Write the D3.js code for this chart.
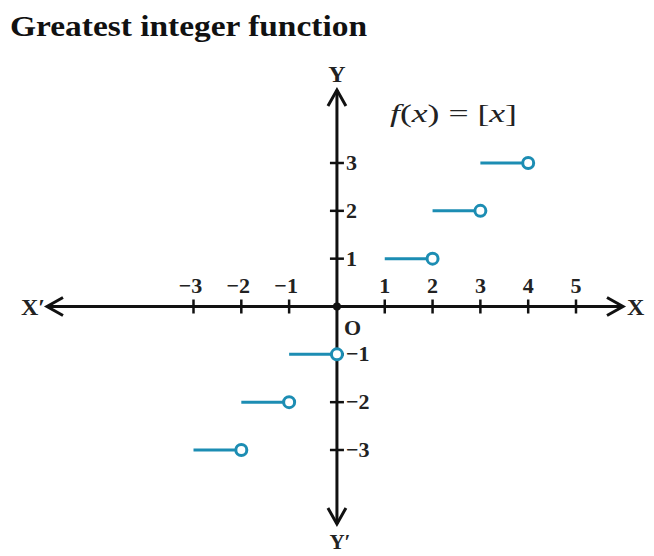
<!DOCTYPE html>
<html><head><meta charset="utf-8">
<script src="https://cdn.jsdelivr.net/npm/d3@7/dist/d3.min.js"></script>
<style>body{margin:0;background:#fff}svg{display:block}text{font-family:"Liberation Serif","Times New Roman",Times,serif}</style>
</head><body>
<script>
// Data: greatest integer function segments [x, x+1) at y = value
const stepStarts = [-3, -2, -1, 1, 2, 3];
const stepValues = [-3, -2, -1, 1, 2, 3];
const xTicks = [-3, -2, -1, 1, 2, 3, 4, 5];
const yTicks = [-3, -2, -1, 1, 2, 3];
const title = "Greatest integer function";

const W = 654, H = 556;
const svg = d3.select("body").append("svg").attr("width", W).attr("height", H)
  .style("font-family", "'Liberation Serif','Times New Roman',Times,serif");

const x = d3.scaleLinear().domain([-3, 5]).range([193.5, 576]);
const y = d3.scaleLinear().domain([-3, 3]).range([450, 163]);
const x0 = x(0), y0 = y(0);
const xLo = x.invert(47), xHi = x.invert(623);
const yHi = y.invert(90), yLo = y.invert(524);

svg.append("text").attr("x", 10).attr("y", 36).attr("font-size", 30).attr("font-weight", "bold")
  .attr("fill", "#111").attr("textLength", 357).attr("lengthAdjust", "spacingAndGlyphs").text(title);

const axisColor = "#111";
svg.append("line").attr("x1", x(xLo)).attr("x2", x(xHi)).attr("y1", y0).attr("y2", y0)
  .attr("stroke", axisColor).attr("stroke-width", 3);
svg.append("line").attr("x1", x0).attr("x2", x0).attr("y1", y(yHi)).attr("y2", y(yLo))
  .attr("stroke", axisColor).attr("stroke-width", 3);

function chevron(tx, ty, dx, dy) {
  const L = 16, S = 9;
  const px = -dy, py = dx;
  const bx = tx - dx * L, by = ty - dy * L;
  svg.append("path").attr("d", `M${bx + px * S},${by + py * S}L${tx},${ty}L${bx - px * S},${by - py * S}`)
    .attr("fill", "none").attr("stroke", axisColor).attr("stroke-width", 3).attr("stroke-linejoin", "miter");
}
chevron(x(xLo), y0, -1, 0);
chevron(x(xHi), y0, 1, 0);
chevron(x0, y(yHi), 0, -1);
chevron(x0, y(yLo), 0, 1);

svg.selectAll(".xt").data(xTicks).enter().append("line")
  .attr("x1", d => x(d)).attr("x2", d => x(d)).attr("y1", y0 - 7).attr("y2", y0 + 7)
  .attr("stroke", axisColor).attr("stroke-width", 2.5);
svg.selectAll(".yt").data(yTicks).enter().append("line")
  .attr("y1", d => y(d)).attr("y2", d => y(d)).attr("x1", x0 - 7).attr("x2", x0 + 7)
  .attr("stroke", axisColor).attr("stroke-width", 2.5);
svg.append("circle").attr("cx", x0).attr("cy", y0).attr("r", 4).attr("fill", axisColor);

const fmt = d => (d < 0 ? "\u2212" + Math.abs(d) : String(d));
svg.selectAll(".xl").data(xTicks).enter().append("text")
  .attr("x", d => x(d) - (d < 0 ? 3 : 0)).attr("y", y0 - 14).attr("text-anchor", "middle")
  .attr("font-size", 22).attr("font-weight", "bold").attr("fill", "#222").text(fmt);
svg.selectAll(".yl").data(yTicks).enter().append("text")
  .attr("x", x0 + 9).attr("y", d => y(d) + 7).attr("font-size", 22).attr("font-weight", "bold")
  .attr("fill", "#222").text(fmt);

svg.append("text").attr("x", 21).attr("y", y0 + 8).attr("font-size", 24).attr("font-weight", "bold").attr("fill", "#222").text("X\u2032");
svg.append("text").attr("x", 627).attr("y", y0 + 8).attr("font-size", 24).attr("font-weight", "bold").attr("fill", "#222").text("X");
svg.append("text").attr("x", x0).attr("y", 82).attr("text-anchor", "middle").attr("font-size", 24).attr("font-weight", "bold").attr("fill", "#222").text("Y");
svg.append("text").attr("x", x0 + 3).attr("y", 549).attr("text-anchor", "middle").attr("font-size", 21).attr("font-weight", "bold").attr("fill", "#222").text("Y\u2032");
svg.append("text").attr("x", x0 + 7).attr("y", y0 + 28).attr("font-size", 22).attr("font-weight", "bold").attr("fill", "#222").text("O");

const lab = svg.append("text").attr("x", 390).attr("y", 122).attr("font-size", 25).attr("fill", "#222")
  .attr("textLength", 127).attr("lengthAdjust", "spacingAndGlyphs");
lab.append("tspan").attr("font-style", "italic").text("f");
lab.append("tspan").text("(");
lab.append("tspan").attr("font-style", "italic").text("x");
lab.append("tspan").text(") = [");
lab.append("tspan").attr("font-style", "italic").text("x");
lab.append("tspan").text("]");

const steps = stepStarts.map((s, i) => ({ s, v: stepValues[i] }));
const blue = "#1c8db3";
svg.selectAll(".seg").data(steps).enter().append("line")
  .attr("x1", d => x(d.s)).attr("x2", d => x(d.s + 1) - 5).attr("y1", d => y(d.v)).attr("y2", d => y(d.v))
  .attr("stroke", blue).attr("stroke-width", 3);
svg.selectAll(".oc").data(steps).enter().append("circle")
  .attr("cx", d => x(d.s + 1)).attr("cy", d => y(d.v)).attr("r", 5.5)
  .attr("fill", "#fff").attr("stroke", blue).attr("stroke-width", 3);
</script>
</body></html>
